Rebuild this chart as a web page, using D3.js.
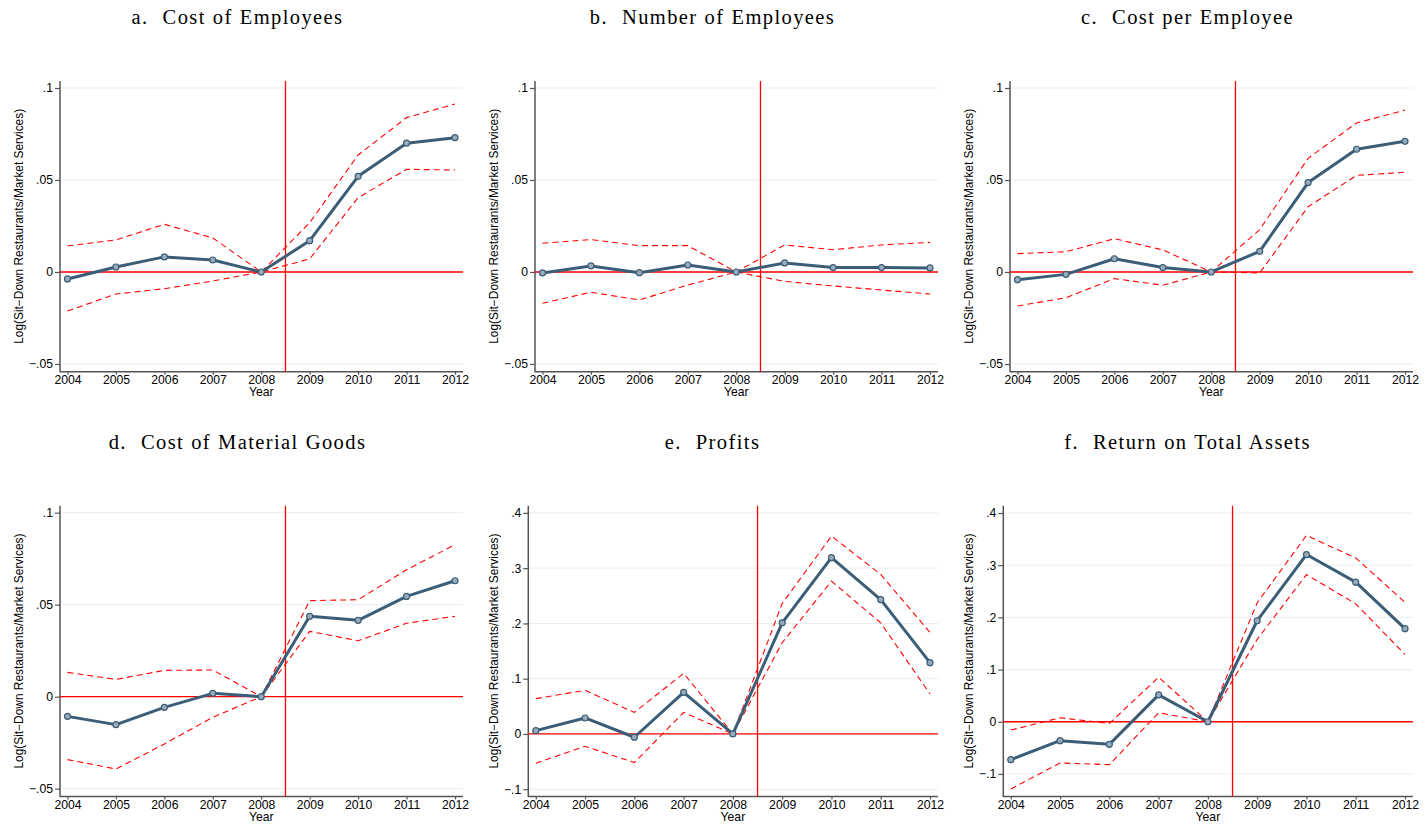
<!DOCTYPE html>
<html>
<head>
<meta charset="utf-8">
<style>
  body { margin: 0; background: #fff; }
  svg text { font-family: "Liberation Sans", Arial, sans-serif; fill: #000; }
  .title { font-family: "Liberation Serif", "Times New Roman", serif; font-size: 20.5px; letter-spacing: 1.4px; word-spacing: 0.5px; }
</style>
<script src="https://cdn.jsdelivr.net/npm/d3@7"></script>
</head>
<body>
<div id="chart"></div>
<script>
var years = [2004, 2005, 2006, 2007, 2008, 2009, 2010, 2011, 2012];

// a. cost of employees
var costEmpEst = [-0.0038, 0.0027, 0.0082, 0.0065, 0, 0.017, 0.052, 0.070, 0.073];
var costEmpHi  = [0.0141, 0.0174, 0.0259, 0.0185, 0, 0.0268, 0.0636, 0.0839, 0.0913];
var costEmpLo  = [-0.0212, -0.012, -0.0091, -0.0049, 0, 0.0071, 0.0404, 0.0558, 0.0554];
// b. number of employees
var numEmpEst = [-0.0005, 0.0033, -0.0004, 0.0038, 0, 0.0049, 0.0024, 0.0024, 0.0022];
var numEmpHi  = [0.0156, 0.0176, 0.0143, 0.0143, 0, 0.0147, 0.0121, 0.0147, 0.0161];
var numEmpLo  = [-0.017, -0.011, -0.0152, -0.0071, 0, -0.0051, -0.0076, -0.0098, -0.012];
// c. cost per employee
var perEmpEst = [-0.0042, -0.0013, 0.0072, 0.0024, 0, 0.0112, 0.0486, 0.0667, 0.071];
var perEmpHi  = [0.010, 0.011, 0.0181, 0.012, 0, 0.023, 0.0618, 0.081, 0.088];
var perEmpLo  = [-0.0185, -0.014, -0.0036, -0.0072, 0, -0.0005, 0.0355, 0.0525, 0.0542];
// d. cost of material goods
var matEst = [-0.0107, -0.0152, -0.0058, 0.0018, 0, 0.0437, 0.0415, 0.0545, 0.063];
var matHi  = [0.0132, 0.0094, 0.0143, 0.0145, 0, 0.0522, 0.0527, 0.069, 0.0826];
var matLo  = [-0.0342, -0.0393, -0.0257, -0.0112, 0, 0.0355, 0.0304, 0.0399, 0.0437];
// e. profits
var profEst = [0.006, 0.0289, -0.006, 0.0753, 0, 0.201, 0.319, 0.243, 0.129];
var profHi  = [0.0639, 0.0789, 0.039, 0.1096, 0, 0.236, 0.358, 0.2886, 0.1837];
var profLo  = [-0.053, -0.0223, -0.0518, 0.039, 0, 0.165, 0.2765, 0.201, 0.0723];
// f. return on total assets
var roaEst = [-0.0726, -0.0363, -0.0433, 0.0516, 0, 0.1936, 0.3204, 0.2675, 0.1783];
var roaHi  = [-0.0159, 0.0076, -0.0032, 0.0854, 0, 0.228, 0.357, 0.314, 0.2287];
var roaLo  = [-0.1287, -0.079, -0.0822, 0.0172, 0, 0.158, 0.282, 0.226, 0.129];

var smallTicks = [-0.05, 0, 0.05, 0.1];
var smallRange = [-0.0542, 0.1038];
var bigTicks = [-0.1, 0, 0.1, 0.2, 0.3, 0.4];

var panels = [
  { title: "a.  Cost of Employees", est: costEmpEst, hi: costEmpHi, lo: costEmpLo, ticks: smallTicks, range: smallRange },
  { title: "b.  Number of Employees", est: numEmpEst, hi: numEmpHi, lo: numEmpLo, ticks: smallTicks, range: smallRange },
  { title: "c.  Cost per Employee", est: perEmpEst, hi: perEmpHi, lo: perEmpLo, ticks: smallTicks, range: smallRange },
  { title: "d.  Cost of Material Goods", est: matEst, hi: matHi, lo: matLo, ticks: smallTicks, range: smallRange },
  { title: "e.  Profits", est: profEst, hi: profHi, lo: profLo, ticks: bigTicks, range: [-0.113, 0.413] },
  { title: "f.  Return on Total Assets", est: roaEst, hi: roaHi, lo: roaLo, ticks: bigTicks, range: [-0.143, 0.414] }
];

var W = 1425, H = 826, panelW = 475, rowH = 424.7;
var mainColor = "#3b5d77", red = "#ff0000";

var svg = d3.select("#chart").append("svg")
  .attr("width", W).attr("height", H);

// stata style tick labels: .05, −.05, 0
function fmtTick(v) {
  if (Math.abs(v) < 1e-9) return "0";
  var s = d3.format("")(+v.toFixed(3)).replace("0.", ".");
  return s.replace("-", "\u2212");
}

panels.forEach(function (p, i) {
  var col = i % 3, row = Math.floor(i / 3);
  var wide = p.ticks === bigTicks;
  var left = wide ? 53.3 : 60, right = 463, top = 81, bottom = 371.7;

  var g = svg.append("g")
    .attr("transform", "translate(" + (col * panelW) + "," + (row * rowH) + ")");

  var x = d3.scaleLinear().domain([2004, 2012]).range([left + 7.5, 455]);
  var y = d3.scaleLinear().domain(p.range).range([bottom, top]);

  // title
  g.append("text").attr("class", "title")
    .attr("x", panelW / 2).attr("y", 24)
    .attr("text-anchor", "middle")
    .attr("xml:space", "preserve").style("white-space", "pre")
    .text(p.title);

  // grid lines
  g.selectAll(".grid").data(p.ticks).enter().append("line")
    .attr("x1", left).attr("x2", right)
    .attr("y1", function (d) { return y(d); })
    .attr("y2", function (d) { return y(d); })
    .attr("stroke", "#e6eff1").attr("stroke-width", 1);

  // axes
  var yAxis = d3.axisLeft(y).tickValues(p.ticks).tickFormat(fmtTick).tickSize(5).tickPadding(2);
  var gy = g.append("g").attr("transform", "translate(" + left + ",0)").call(yAxis);
  var xAxis = d3.axisBottom(x).tickValues(years).tickFormat(d3.format("d")).tickSize(3).tickPadding(1);
  var gx = g.append("g").attr("transform", "translate(0," + bottom + ")").call(xAxis);
  [gx, gy].forEach(function (a) {
    a.select(".domain").remove();
    a.selectAll(".tick line").attr("stroke", "#555").attr("stroke-width", 1.2);
    a.selectAll("text").style("font-size", "12.2px").attr("fill", "#000");
  });
  g.append("line").attr("x1", left).attr("x2", left).attr("y1", top).attr("y2", bottom + 0.6)
    .attr("stroke", "#555").attr("stroke-width", 1.5);
  g.append("line").attr("x1", left).attr("x2", right).attr("y1", bottom).attr("y2", bottom)
    .attr("stroke", "#555").attr("stroke-width", 1.5);

  // axis titles
  g.append("text")
    .attr("transform", "translate(23," + ((top + bottom) / 2) + ") rotate(-90)")
    .attr("text-anchor", "middle").style("font-size", "11.9px")
    .text("Log(Sit\u2212Down Restaurants/Market Services)");
  g.append("text")
    .attr("x", x(2008)).attr("y", 396)
    .attr("text-anchor", "middle").style("font-size", "12.2px")
    .text("Year");

  // reference lines
  g.append("line").attr("x1", left).attr("x2", right).attr("y1", y(0)).attr("y2", y(0))
    .attr("stroke", red).attr("stroke-width", 1.3);
  g.append("line").attr("x1", x(2008.5)).attr("x2", x(2008.5)).attr("y1", top).attr("y2", bottom)
    .attr("stroke", red).attr("stroke-width", 1.3);

  var line = d3.line()
    .x(function (d, k) { return x(years[k]); })
    .y(function (d) { return y(d); });

  // confidence bands
  [p.hi, p.lo].forEach(function (arr) {
    g.append("path").datum(arr).attr("d", line)
      .attr("fill", "none").attr("stroke", red)
      .attr("stroke-width", 1.1).attr("stroke-dasharray", "6,4");
  });

  // estimates
  g.append("path").datum(p.est).attr("d", line)
    .attr("fill", "none").attr("stroke", mainColor)
    .attr("stroke-width", 3).attr("stroke-linejoin", "round");
  g.selectAll(".pt").data(p.est).enter().append("circle")
    .attr("cx", function (d, k) { return x(years[k]); })
    .attr("cy", function (d) { return y(d); })
    .attr("r", 3)
    .attr("fill", "#98abba").attr("stroke", mainColor).attr("stroke-width", 1.2);
});
</script>
</body>
</html>
